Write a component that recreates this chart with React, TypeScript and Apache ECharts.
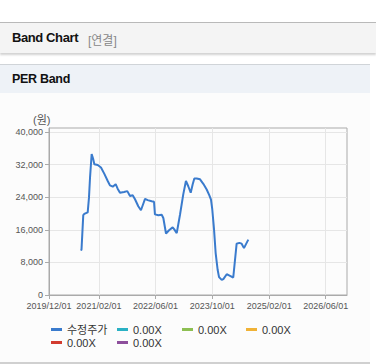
import React, { useEffect, useRef } from "react";
import * as echarts from "echarts";

const priceDates: string[] = [
  "2020-09-01", "2020-09-05", "2020-09-20", "2020-09-29", "2020-10-28", "2020-11-08",
  "2020-11-17", "2020-11-25", "2020-12-01", "2020-12-15", "2020-12-24", "2021-01-22",
  "2021-02-19", "2021-03-19", "2021-04-18", "2021-05-07", "2021-05-31", "2021-06-25",
  "2021-07-12", "2021-08-01", "2021-09-05", "2021-10-03", "2021-10-26", "2021-11-18",
  "2021-12-08", "2022-01-05", "2022-01-28", "2022-02-17", "2022-03-04", "2022-03-27",
  "2022-04-30", "2022-05-20", "2022-05-28", "2022-06-26", "2022-07-25", "2022-08-08",
  "2022-08-31", "2022-09-26", "2022-10-27", "2022-11-10", "2022-12-01", "2022-12-29",
  "2023-01-26", "2023-02-18", "2023-03-10", "2023-03-31", "2023-04-17", "2023-05-01",
  "2023-05-21", "2023-06-19", "2023-07-17", "2023-08-15", "2023-09-06", "2023-09-21",
  "2023-10-02", "2023-10-17", "2023-10-31", "2023-11-17", "2023-11-29", "2023-12-22",
  "2024-01-05", "2024-02-03", "2024-03-02", "2024-03-30", "2024-04-28", "2024-05-21",
  "2024-06-10", "2024-06-30", "2024-08-06",
];

const priceValues: number[] = [
  10900, 11200, 19600, 19900, 20300, 23900,
  28800, 32100, 34600, 33300, 32100, 31900,
  31300, 29800, 28000, 26900, 26600, 27200,
  26100, 25100, 25300, 25500, 24300, 24500,
  23500, 21800, 20800, 22400, 23600, 23300,
  23000, 22900, 19800, 19600, 19700, 18900,
  15100, 15900, 16600, 16100, 15200, 19700,
  24700, 28000, 26700, 25100, 27200, 28600,
  28600, 28400, 27300, 25900, 24500, 23400,
  21000, 16100, 10300, 6200, 4400, 3700,
  3900, 5100, 4700, 4300, 12600, 12800,
  12600, 11500, 13600,
];

const xTickDates: string[] = ["2019-12-01", "2021-02-01", "2022-06-01", "2023-10-01", "2025-02-01", "2026-06-01"];
const xMinDate = "2019-12-01";
const xMaxDate = "2026-12-01";
const yTicks: number[] = [0, 8000, 16000, 24000, 32000, 40000];

const priceName = "수정주가";
const bandNames: string[] = ["0.00X", "0.00X ", "0.00X  ", "0.00X   ", "0.00X    "];
const bandColors: string[] = ["#2ab1c4", "#8dbf52", "#f0b236", "#d23b2f", "#8d4f9c"];
const priceColor = "#3a7bcd";

const ts = (s: string) => {
  const [y, m, d] = s.split("-").map(Number);
  return Date.UTC(y, m - 1, d);
};
const pad = (n: number) => (n < 10 ? "0" + n : "" + n);
const fmtDate = (v: number) => {
  const d = new Date(v);
  return `${d.getUTCFullYear()}/${pad(d.getUTCMonth() + 1)}/${pad(d.getUTCDate())}`;
};

const FONT = "'Liberation Sans', 'Noto Sans CJK KR', Arial, sans-serif";

export default function App() {
  const ref = useRef<HTMLDivElement>(null);

  useEffect(() => {
    if (!ref.current) return;
    const chart = echarts.init(ref.current, undefined, { renderer: "svg" });
    const xTicks = xTickDates.map(ts);
    const priceData = priceDates.map((d, i) => [ts(d), priceValues[i]]);

    const series: any[] = [
      {
        name: priceName,
        type: "line",
        data: priceData,
        showSymbol: false,
        symbol: "none",
        lineStyle: { color: priceColor, width: 2 },
        itemStyle: { color: priceColor },
      },
      ...bandNames.map((n, i) => ({
        name: n,
        type: "line",
        data: [],
        showSymbol: false,
        lineStyle: { color: bandColors[i], width: 2 },
        itemStyle: { color: bandColors[i] },
      })),
    ];

    const legendNames = [priceName, ...bandNames];
    const colX = [51, 117, 182, 246];
    const rowY = [324, 337];
    const legends = legendNames.map((n, i) => ({
      orient: "horizontal",
      icon: "rect",
      itemWidth: 11,
      itemHeight: 3,
      itemGap: 5,
      padding: 0,
      left: colX[i % 4],
      top: rowY[Math.floor(i / 4)],
      data: [n],
      formatter: (name: string) => name.trim(),
      textStyle: { fontSize: 11, color: "#333", fontFamily: FONT },
    }));

    chart.setOption({
      animation: false,
      textStyle: { fontFamily: FONT },
      grid: {
        left: 49,
        top: 128,
        width: 298,
        height: 167,
        show: true,
        borderColor: "#aaaaaa",
        borderWidth: 1,
        backgroundColor: "transparent",
      },
      legend: legends,
      xAxis: {
        type: "value",
        min: ts(xMinDate),
        max: ts(xMaxDate),
        axisLine: { show: true, lineStyle: { color: "#aaaaaa" } },
        axisTick: { show: true, length: 4, customValues: xTicks, lineStyle: { color: "#aaaaaa" } },
        axisLabel: {
          customValues: xTicks,
          fontSize: 9,
          color: "#555",
          margin: 6,
          formatter: (v: number) => fmtDate(v),
          showMinLabel: true,
          showMaxLabel: true,
        },
        splitLine: { show: true, lineStyle: { color: "#e6e6e6" } },
      },
      yAxis: {
        type: "value",
        min: 0,
        max: 41000,
        axisLine: { show: true, lineStyle: { color: "#aaaaaa" } },
        axisTick: { show: true, length: 4, customValues: yTicks, lineStyle: { color: "#aaaaaa" } },
        axisLabel: {
          customValues: yTicks,
          fontSize: 9,
          color: "#555",
          margin: 6,
          formatter: (v: number) => v.toLocaleString("en-US"),
        },
        splitLine: { show: true, lineStyle: { color: "#e6e6e6" } },
      },
      graphic: [
        {
          type: "text",
          left: 33,
          top: 114,
          style: { text: "(원)", fontSize: 11, fill: "#555", fontFamily: FONT },
        },
      ],
      series,
    });
    return () => chart.dispose();
  }, []);

  return (
    <div style={{ position: "fixed", left: 0, top: 0, width: 376, height: 364, background: "#fff", overflow: "hidden", fontFamily: FONT }}>
      <div style={{ position: "absolute", left: 0, top: 22, width: 376, height: 30, background: "#f4f4f4", borderTop: "1px solid #b9b9b9", boxShadow: "0 2px 2px rgba(0,0,0,0.18)" }}>
        <span style={{ position: "absolute", left: 12, top: 7, fontSize: 13, fontWeight: "bold", color: "#111", letterSpacing: -0.4 }}>Band Chart</span>
        <span style={{ position: "absolute", left: 88, top: 8, fontSize: 12, color: "#888" }}>[연결]</span>
      </div>
      <div style={{ position: "absolute", left: 0, top: 64, width: 370, height: 28, background: "#eef2f7", borderTop: "1px solid #d0d4d8" }}>
        <span style={{ position: "absolute", left: 12, top: 7, fontSize: 12.5, fontWeight: "bold", color: "#111", letterSpacing: -0.3 }}>PER Band</span>
      </div>
      <div style={{ position: "absolute", left: 0, top: 93, width: 370, height: 269, background: "#fcfcfc" }} />
      <div style={{ position: "absolute", left: 0, top: 362, width: 370, height: 2, background: "#d0d0d0" }} />
      <div ref={ref} style={{ position: "absolute", left: 0, top: 0, width: 376, height: 364 }} />
    </div>
  );
}
